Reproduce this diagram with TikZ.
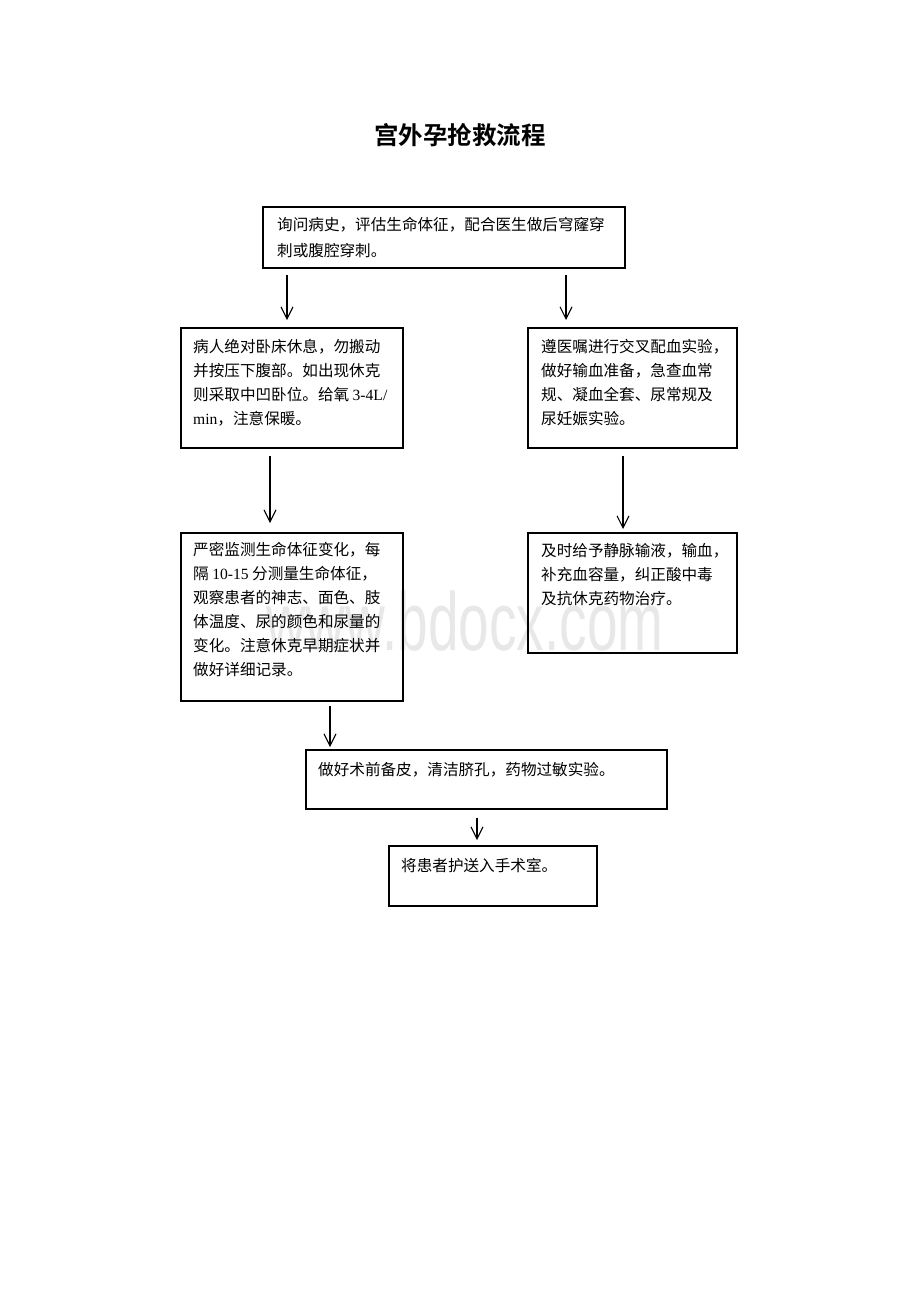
\documentclass[tikz,border=0pt]{standalone}
\usepackage{fontspec}
\usetikzlibrary{arrows.meta}
\newfontfamily\cjk{Noto Sans CJK SC}[BoldFont={Noto Sans CJK SC Bold}]
\newfontfamily\lat{Liberation Serif}
\newfontfamily\wm{Liberation Sans}
\begin{document}
\begin{tikzpicture}[x=1pt,y=-1pt,
  box/.style={draw,line width=1.1pt,inner sep=0pt},
  txt/.style={anchor=north west,inner sep=0pt,align=left,font=\cjk\fontsize{15.6}{24}\selectfont},
  arr/.style={line width=1.1pt,-{Straight Barb[length=12pt,width=12pt,line width=1.1pt]}}]
\useasboundingbox (0,0) rectangle (920,1302);
% watermark
\node[anchor=base west,inner sep=0pt,text=black!9,font=\wm\fontsize{55}{55}\selectfont,yscale=1.5] (wm) at (266,650) {www.bdocx.com};
% title
\node[inner sep=0pt,font=\cjk\bfseries\fontsize{24.5}{24.5}\selectfont] (title) at (460,135) {宫外孕抢救流程};
% boxes
\draw[box] (263,207) rectangle (625,268);
\node[txt,font=\cjk\fontsize{15.6}{26}\selectfont] (t1) at (277,217) {询问病史，评估生命体征，配合医生做后穹窿穿\\刺或腹腔穿刺。};
\draw[box] (181,328) rectangle (403,448);
\node[txt] (t2) at (193,339) {病人绝对卧床休息，勿搬动\\并按压下腹部。如出现休克\\则采取中凹卧位。给氧 {\lat 3-4L/}\\{\lat min}，注意保暖。};
\draw[box] (528,328) rectangle (737,448);
\node[txt] (t3) at (541,339) {遵医嘱进行交叉配血实验，\\做好输血准备，急查血常\\规、凝血全套、尿常规及\\尿妊娠实验。};
\draw[box] (181,533) rectangle (403,701);
\node[txt] (t4) at (193,542) {严密监测生命体征变化，每\\隔 {\lat 10-15} 分测量生命体征，\\观察患者的神志、面色、肢\\体温度、尿的颜色和尿量的\\变化。注意休克早期症状并\\做好详细记录。};
\draw[box] (528,533) rectangle (737,653);
\node[txt] (t5) at (541,543) {及时给予静脉输液，输血，\\补充血容量，纠正酸中毒\\及抗休克药物治疗。};
\draw[box] (306,750) rectangle (667,809);
\node[txt] (t6) at (318,762) {做好术前备皮，清洁脐孔，药物过敏实验。};
\draw[box] (389,846) rectangle (597,906);
\node[txt] (t7) at (401,858) {将患者护送入手术室。};
% arrows
\coordinate (a1s) at (287,275); \coordinate (a1e) at (287,320);
\coordinate (a2s) at (566,275); \coordinate (a2e) at (566,320);
\coordinate (a3s) at (270,456); \coordinate (a3e) at (270,523);
\coordinate (a4s) at (623,456); \coordinate (a4e) at (623,529);
\coordinate (a5s) at (330,706); \coordinate (a5e) at (330,747);
\coordinate (a6s) at (477,818); \coordinate (a6e) at (477,840);
\draw[arr] (a1s) -- (a1e);
\draw[arr] (a2s) -- (a2e);
\draw[arr] (a3s) -- (a3e);
\draw[arr] (a4s) -- (a4e);
\draw[arr] (a5s) -- (a5e);
\draw[arr] (a6s) -- (a6e);
\end{tikzpicture}
\end{document}
